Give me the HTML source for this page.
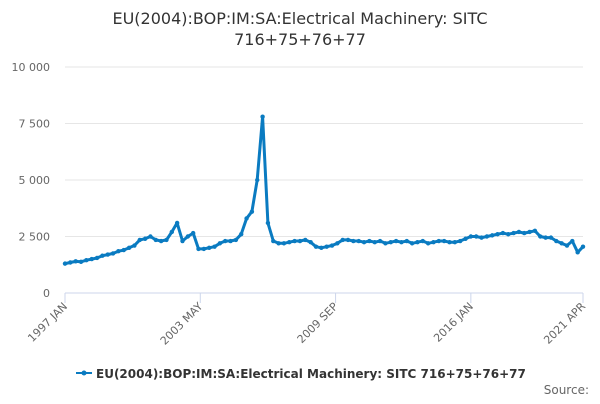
<!DOCTYPE html>
<html><head><meta charset="utf-8"><style>
body{margin:0;background:#fff;font-family:"DejaVu Sans","Liberation Sans",sans-serif}
svg text{font-family:"DejaVu Sans","Liberation Sans",sans-serif}
</style></head><body>
<svg id="chart" width="600" height="400" viewBox="0 0 600 400">
<text x="300" y="24" text-anchor="middle" font-size="16" fill="#333">EU(2004):BOP:IM:SA:Electrical Machinery: SITC</text>
<text x="300" y="45" text-anchor="middle" font-size="16" fill="#333">716+75+76+77</text>
<g id="grid"></g><g id="xaxis"></g><g id="series"></g>
<g>
<line x1="76" y1="373" x2="92" y2="373" stroke="#0a7bc1" stroke-width="2"/>
<circle cx="84" cy="373" r="2.5" fill="#0a7bc1"/>
<text x="96" y="378" font-size="12" font-weight="bold" fill="#333">EU(2004):BOP:IM:SA:Electrical Machinery: SITC 716+75+76+77</text>
</g>
<text x="589" y="394" text-anchor="end" font-size="12" fill="#666">Source:</text>
</svg>
<script>
const yTicks=[0,2500,5000,7500,10000];
const yTickLabels=["0","2 500","5 000","7 500","10 000"];
const xTickMonths=[0,76,152,228,291];
const xTickLabels=["1997 JAN","2003 MAY","2009 SEP","2016 JAN","2021 APR"];
const quarterStartMonths=[];for(let i=0;i<97;i++)quarterStartMonths.push(i*3);quarterStartMonths.push(291);
const values=[1300,1350,1400,1380,1450,1500,1550,1650,1700,1750,1850,1900,2000,2100,2350,2400,2500,2350,2300,2350,2700,3100,2300,2500,2650,1950,1950,2000,2050,2200,2300,2300,2350,2600,3300,3600,5000,7800,3100,2300,2200,2200,2250,2300,2300,2350,2250,2050,2000,2050,2100,2200,2350,2350,2300,2300,2250,2300,2250,2300,2200,2250,2300,2250,2300,2200,2250,2300,2200,2250,2300,2300,2250,2250,2300,2400,2500,2500,2450,2500,2550,2600,2650,2600,2650,2700,2650,2700,2750,2500,2450,2450,2300,2200,2100,2300,1800,2050];
const X0=65,X1=583,Y0=293,Y1=67;
const xS=m=>X0+(X1-X0)*m/291;
const yS=v=>Y0-(Y0-Y1)*v/10000;
const NS="http://www.w3.org/2000/svg";
const grid=document.getElementById('grid'),xa=document.getElementById('xaxis'),ser=document.getElementById('series');
function mk(tag,attrs,parent){const e=document.createElementNS(NS,tag);for(const k in attrs)e.setAttribute(k,attrs[k]);parent.appendChild(e);return e;}
yTicks.forEach((t,i)=>{
 if(t>0){const g=mk('line',{x1:X0,x2:X1,y1:yS(t),y2:yS(t),stroke:'#e6e6e6'},grid);
 
 }
 const l=mk('text',{x:50,y:yS(t)+4,'text-anchor':'end','font-size':11,fill:'#666'},grid);
 l.textContent=yTickLabels[i];
 
 
});
const ax=mk('line',{x1:X0,x2:X1,y1:Y0,y2:Y0,stroke:'#ccd6eb'},xa);


xTickMonths.forEach((m,i)=>{
 const x=xS(m);
 const t=mk('line',{x1:x,x2:x,y1:Y0,y2:Y0+10,stroke:'#ccd6eb'},xa);
 
 
 const l=mk('text',{x:x+3,y:Y0+14,'text-anchor':'end','font-size':11,fill:'#666',transform:`rotate(-45 ${x+3} ${Y0+14})`},xa);
 l.textContent=xTickLabels[i];
 
 
});
const pts=values.map((v,i)=>xS(quarterStartMonths[i]).toFixed(1)+','+yS(v).toFixed(1)).join(' ');
const pl=mk('polyline',{points:pts,fill:'none',stroke:'#0a7bc1','stroke-width':3,'stroke-linejoin':'round'},ser);


values.forEach((v,i)=>{
 const c=mk('circle',{cx:xS(quarterStartMonths[i]),cy:yS(v),r:2.2,fill:'#0a7bc1'},ser);
 
 
});
</script>
</body></html>
